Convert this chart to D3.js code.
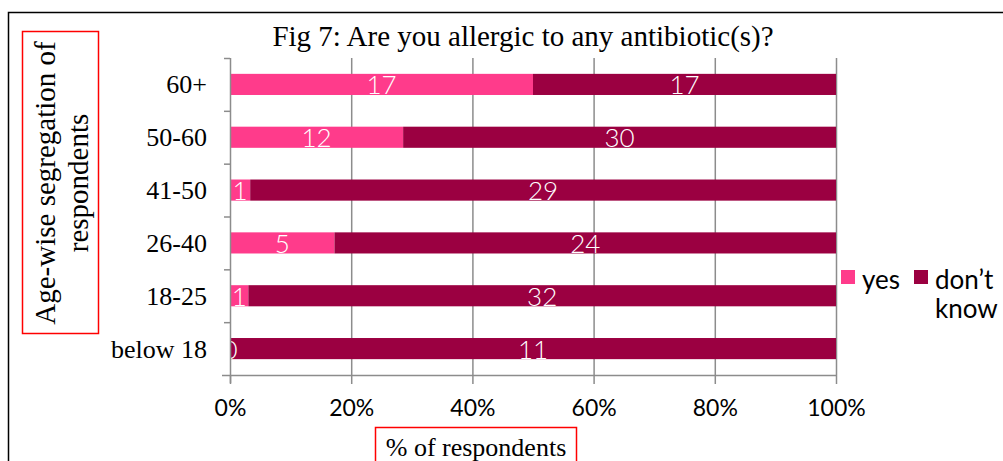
<!DOCTYPE html>
<html>
<head>
<meta charset="utf-8">
<script src="https://cdn.jsdelivr.net/npm/d3@7"></script>
<style>
  body { margin: 0; background: #fff; overflow: hidden; }
</style>
</head>
<body>
<div id="chart"></div>
<script>
// data (counts, drawn as 100% stacked)
var ageGroups = ["60+", "50-60", "41-50", "26-40", "18-25", "below 18"];
var yesCounts = [17, 12, 1, 5, 1, 0];
var dontKnowCounts = [17, 30, 29, 24, 32, 11];
var seriesNames = ["yes", "don\u2019t know"];
var pctTicks = [0, 0.2, 0.4, 0.6, 0.8, 1];

var W = 1003, H = 461;
var colors = ["#ff3b8b", "#9b0041"];
var sansFont = "Lato, 'Open Sans', sans-serif";
var serifFont = "'Liberation Serif', 'DejaVu Serif', serif";

var svg = d3.select("#chart").append("svg")
  .attr("width", W).attr("height", H);

// outer frame (only top and left edges visible in the crop)
svg.append("path")
  .attr("d", "M8.5," + H + " L8.5,12.5 L" + W + ",12.5")
  .attr("fill", "none").attr("stroke", "#000").attr("stroke-width", 1.5);

var x = d3.scaleLinear().domain([0, 1]).range([230, 836]);
var y = d3.scaleBand().domain(ageGroups).range([58, 375]).paddingInner(0.6).paddingOuter(0.3);

// rows with shares
var rows = ageGroups.map(function(g, i) {
  var tot = yesCounts[i] + dontKnowCounts[i];
  return { group: g, yes: yesCounts[i], dk: dontKnowCounts[i], yesShare: yesCounts[i] / tot };
});

// gridlines
svg.append("g").selectAll("line").data(pctTicks.slice(1)).enter().append("line")
  .attr("x1", function(d) { return x(d) + 0.5; }).attr("x2", function(d) { return x(d) + 0.5; })
  .attr("y1", 58).attr("y2", 375)
  .attr("stroke", "#8c8c8c").attr("stroke-width", 1.5);

// bars
var bar = svg.append("g").selectAll("g").data(rows).enter().append("g");
bar.append("rect")
  .attr("x", x(0)).attr("y", function(d) { return y(d.group); })
  .attr("width", function(d) { return x(d.yesShare) - x(0); })
  .attr("height", y.bandwidth()).attr("fill", colors[0]);
bar.append("rect")
  .attr("x", function(d) { return x(d.yesShare); }).attr("y", function(d) { return y(d.group); })
  .attr("width", function(d) { return x(1) - x(d.yesShare); })
  .attr("height", y.bandwidth()).attr("fill", colors[1]);

// value labels
bar.append("text")
  .attr("x", function(d) { return (x(0) + x(d.yesShare)) / 2; })
  .attr("y", function(d) { return y(d.group) + y.bandwidth() / 2 + 10; })
  .attr("text-anchor", "middle").attr("fill", "#fff")
  .style("font-family", sansFont).style("font-weight", 300).style("font-size", "26px")
  .text(function(d) { return d.yes; });
bar.append("text")
  .attr("x", function(d) { return (x(d.yesShare) + x(1)) / 2; })
  .attr("y", function(d) { return y(d.group) + y.bandwidth() / 2 + 10; })
  .attr("text-anchor", "middle").attr("fill", "#fff")
  .style("font-family", sansFont).style("font-weight", 300).style("font-size", "26px")
  .text(function(d) { return d.dk; });

// x axis
var xAxis = svg.append("g").attr("transform", "translate(0,375)")
  .call(d3.axisBottom(x).tickValues(pctTicks).tickFormat(d3.format(".0%")).tickSize(9).tickPadding(16));
xAxis.select(".domain").attr("d", "M222,0.5H836").attr("stroke", "#8c8c8c").attr("stroke-width", 1.5);
xAxis.selectAll(".tick line").attr("stroke", "#8c8c8c").attr("stroke-width", 1.5);
xAxis.selectAll(".tick text").attr("fill", "#000")
  .style("font-family", sansFont).style("font-size", "23px");

// y axis: ticks sit between categories
var yAxisG = svg.append("g");
yAxisG.append("line").attr("x1", 230.5).attr("x2", 230.5).attr("y1", 58).attr("y2", 383)
  .attr("stroke", "#8c8c8c").attr("stroke-width", 1.5);
yAxisG.selectAll(".yt").data(d3.range(ageGroups.length)).enter().append("line")
  .attr("x1", 224).attr("x2", 230)
  .attr("y1", function(i) { return 58 + i * (317 / 6) + 0.5; })
  .attr("y2", function(i) { return 58 + i * (317 / 6) + 0.5; })
  .attr("stroke", "#8c8c8c").attr("stroke-width", 1.5);
yAxisG.selectAll("text").data(ageGroups).enter().append("text")
  .attr("x", 207).attr("y", function(d) { return y(d) + y.bandwidth() / 2 + 9; })
  .attr("text-anchor", "end").attr("fill", "#000")
  .style("font-family", serifFont).style("font-size", "26px")
  .text(function(d) { return d; });

// title
svg.append("text").attr("x", 523).attr("y", 46).attr("text-anchor", "middle")
  .style("font-family", serifFont).style("font-size", "29px")
  .text("Fig 7: Are you allergic to any antibiotic(s)?");

// y title in red box
svg.append("rect").attr("x", 22.5).attr("y", 31.5).attr("width", 76).attr("height", 302)
  .attr("fill", "none").attr("stroke", "#ff0000").attr("stroke-width", 1.5);
var yTitle = svg.append("text").attr("transform", "translate(60,183) rotate(-90)")
  .attr("text-anchor", "middle")
  .style("font-family", serifFont).style("font-size", "29px");
yTitle.append("tspan").attr("x", 0).attr("y", -5).text("Age-wise segregation of");
yTitle.append("tspan").attr("x", 0).attr("y", 28).text("respondents");

// x title in red box
svg.append("rect").attr("x", 375.5).attr("y", 427.5).attr("width", 201).attr("height", 40)
  .attr("fill", "none").attr("stroke", "#ff0000").attr("stroke-width", 1.5);
svg.append("text").attr("x", 476).attr("y", 456).attr("text-anchor", "middle")
  .style("font-family", serifFont).style("font-size", "26px")
  .text("% of respondents");

// legend
var legend = svg.append("g");
legend.append("rect").attr("x", 841).attr("y", 270).attr("width", 14).attr("height", 14).attr("fill", colors[0]);
legend.append("text").attr("x", 862).attr("y", 289)
  .style("font-family", sansFont).style("font-size", "26px").text(seriesNames[0]);
legend.append("rect").attr("x", 914).attr("y", 270).attr("width", 14).attr("height", 14).attr("fill", colors[1]);
var lt = legend.append("text").style("font-family", sansFont).style("font-size", "26px");
var words = seriesNames[1].split(" ");
lt.append("tspan").attr("x", 935).attr("y", 289).text(words[0]);
lt.append("tspan").attr("x", 935).attr("y", 318).text(words[1]);
</script>
</body>
</html>
